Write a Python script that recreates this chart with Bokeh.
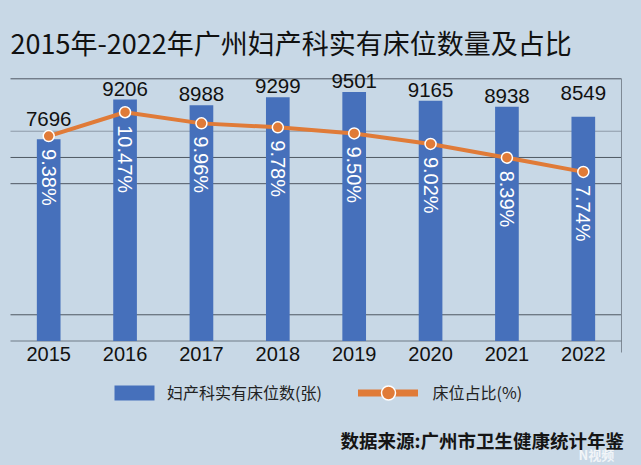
import math
from bokeh.plotting import figure
from bokeh.models import (ColumnDataSource, Range1d, Label, Legend, LegendItem,
                          GlobalInlineStyleSheet, FactorRange)
from bokeh.core.properties import value
from bokeh.embed import file_html
from bokeh.resources import INLINE

# ---------------- data ----------------
years = ["2015", "2016", "2017", "2018", "2019", "2020", "2021", "2022"]
beds = [7696, 9206, 8988, 9299, 9501, 9165, 8938, 8549]
share = [9.38, 10.47, 9.96, 9.78, 9.50, 9.02, 8.39, 7.74]

title_text = "2015年-2022年广州妇产科实有床位数量及占比"
bed_label = "妇产科实有床位数(张)"
share_label = "床位占比(%)"
source_text = "数据来源:广州市卫生健康统计年鉴"

bed_max = 10000
share_max = 12
grid_dark = [1000, 6000, 7000, 10000]
grid_light = [8000]

# ---------------- layout / styles ----------------
W, H = 641, 465
PLOT_LEFT, PLOT_RIGHT = 10, 620.7      # px, category band
PLOT_TOP, PLOT_BOTTOM = 78.3, 340.5    # px, value band
BG = "#c8d8e6"
BLUE = "#4670bb"
ORANGE = "#e07b38"
label_lift = [9, 0, 0, 0, 0, 0, 0, 13]   # extra pixel nudges for value labels
LABEL_GAP = 4

n = len(years)
band_w = (PLOT_RIGHT - PLOT_LEFT) / n
frame_w = 2 * PLOT_LEFT + (PLOT_RIGHT - PLOT_LEFT)
pad = PLOT_LEFT / band_w
k_bed = (PLOT_BOTTOM - PLOT_TOP) / bed_max
k_pct = (PLOT_BOTTOM - PLOT_TOP) / share_max

src = ColumnDataSource(dict(
    year=years, beds=beds, share=share,
    bed_txt=[str(b) for b in beds],
    share_txt=[f"{s:.2f}%" for s in share],
    lift=[-(v + LABEL_GAP) for v in label_lift],
    zero=[0] * n,
    blank=[float("nan")] * n,
))

p = figure(width=W, height=H,
           x_range=FactorRange(*years, range_padding=pad, range_padding_units="absolute"),
           y_range=Range1d(-(H - PLOT_BOTTOM) / k_bed, bed_max + PLOT_TOP / k_bed),
           output_backend="svg", toolbar_location=None,
           x_axis_location=None, y_axis_location=None,
           min_border_left=0, min_border_right=int(round(W - frame_w)),
           min_border_top=0, min_border_bottom=0,
           background_fill_color=BG, border_fill_color=BG, outline_line_color=None)
p.stylesheets = [GlobalInlineStyleSheet(css=f"html, body {{ background: {BG}; }}")]
p.extra_y_ranges = {"pct": Range1d(-(H - PLOT_BOTTOM) / k_pct, share_max + PLOT_TOP / k_pct)}
p.xgrid.visible = False
p.ygrid.visible = False

# grid lines across the category band (synthetic coordinates 0..n)
p.segment(x0=[0] * len(grid_dark), x1=[n] * len(grid_dark), y0=grid_dark, y1=grid_dark,
          line_color="#4f5863", line_width=1)
p.segment(x0=[0] * len(grid_light), x1=[n] * len(grid_light), y0=grid_light, y1=grid_light,
          line_color="#8d9aa7", line_width=1)
# right border and x axis line
p.segment(x0=[n], x1=[n], y0=[-11.5 / k_bed], y1=[bed_max], line_color="#7d8894", line_width=1)
p.segment(x0=[0], x1=[n], y0=[0], y1=[0], line_color="#6f7a86", line_width=1)

bars = p.vbar(x="year", top="beds", width=0.31, source=src, fill_color=BLUE, line_color=None)
line = p.line(x="year", y="share", source=src, y_range_name="pct",
              line_width=4, line_color=ORANGE, line_join="round")
dots = p.scatter(x="year", y="share", source=src, y_range_name="pct", size=11,
                 fill_color=ORANGE, line_color="white", line_width=1.5)
# legend-only thicker line sample (all-NaN values, draws nothing in the plot)
legend_line = p.line(x="year", y="blank", source=src, y_range_name="pct", line_width=7,
                     line_color=ORANGE, line_cap="round")

p.text(x="year", y="share", text="share_txt", source=src, y_range_name="pct",
       angle=-math.pi / 2, text_align="left", text_baseline="middle", y_offset=13,
       text_color="white", text_font=value("Liberation Sans"), text_font_size="20px")

p.text(x="year", y="beds", text="bed_txt", source=src, text_align="center",
       text_baseline="bottom", y_offset="lift", text_color="#111111",
       text_font=value("Liberation Sans"), text_font_size="20.5px")

# category tick labels
p.text(x="year", y="zero", text="year", source=src, text_align="center",
       text_baseline="top", y_offset=6, text_color="#111111",
       text_font=value("Liberation Sans"), text_font_size="20px")

common = dict(orientation="horizontal", padding=0, margin=0, spacing=0,
              background_fill_alpha=0, border_line_color=None,
              label_text_font="Noto Sans CJK SC", label_text_font_size="16px",
              label_text_color="#222222")
leg1 = Legend(items=[LegendItem(label=bed_label, renderers=[bars])],
              location=(109, H - 404), glyph_width=50, glyph_height=19,
              label_standoff=8, **common)
leg2 = Legend(items=[LegendItem(label=share_label, renderers=[legend_line, dots])],
              location=(357.5, H - 409.5), glyph_width=60, glyph_height=35,
              label_standoff=15, **common)
p.add_layout(leg1, "center")
p.add_layout(leg2, "center")

p.add_layout(Label(x=10, y=H - 42, x_units="screen", y_units="screen", text=title_text,
                   text_font="Noto Sans CJK SC", text_font_size="27px",
                   text_baseline="middle", text_color="#111111"))
p.add_layout(Label(x=623.5, y=H - 439.7, x_units="screen", y_units="screen", text=source_text,
                   text_font="Noto Sans CJK SC", text_font_size="18.5px", text_font_style="bold",
                   text_align="right", text_baseline="middle", text_color="#151515"))
p.add_layout(Label(x=578, y=H - 454, x_units="screen", y_units="screen", text="N视频",
                   text_font="Noto Sans CJK SC", text_font_size="13px", text_font_style="bold",
                   text_baseline="middle", text_color="white", text_alpha=0.75))

open("out.html", "w").write(file_html(p, INLINE))
